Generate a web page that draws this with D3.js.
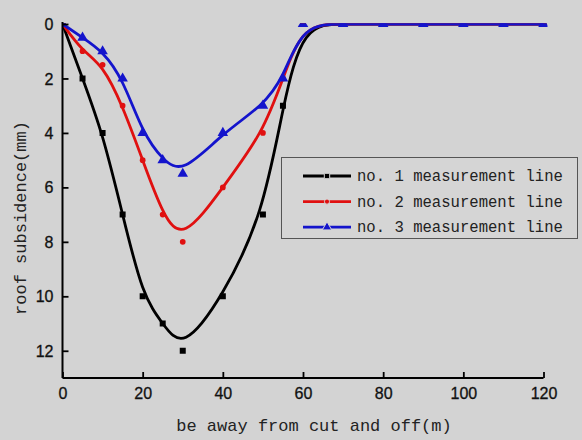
<!DOCTYPE html>
<html>
<head>
<meta charset="utf-8">
<script src="https://cdn.jsdelivr.net/npm/d3@7"></script>
<style>
  html, body { margin: 0; padding: 0; background: #d3d3d3; }
  svg { display: block; }
</style>
</head>
<body>
<svg id="chart" width="582" height="440"></svg>
<script>
// Distance from the cut line (m)
const distance = [0, 5, 10, 15, 20, 25, 30, 40, 50, 55, 60, 70, 80, 90, 100, 110, 120];
// Roof subsidence (mm) on each measurement line
const line1 = [0, 2, 4, 7, 10, 11, 12, 10, 7, 3, 0, 0, 0, 0, 0, 0, 0];
const line2 = [0, 1, 1.5, 3, 5, 7, 8, 6, 4, 2, 0, 0, 0, 0, 0, 0, 0];
const line3 = [0, 0.5, 1, 2, 4, 5, 5.5, 4, 3, 2, 0, 0, 0, 0, 0, 0, 0];
const seriesNames = ["no. 1 measurement line", "no. 2 measurement line", "no. 3 measurement line"];
const xTicks = [0, 20, 40, 60, 80, 100, 120];
const yTicks = [0, 2, 4, 6, 8, 10, 12];

const svg = d3.select("#chart");
const x = d3.scaleLinear().domain([0, 120]).range([62.5, 543.5]);
const y = d3.scaleLinear().domain([0, 13]).range([24, 378]);

const colors = ["#000000", "#e01010", "#1414cc"];
const symbols = [d3.symbolSquare, d3.symbolCircle, d3.symbolTriangle];
const symSizes = [36, 26, 48];
const values = [line1, line2, line3];

// clip region for the data marks
svg.append("defs").append("clipPath").attr("id", "plotClip")
  .append("rect")
  .attr("x", x(0)).attr("y", y(0) - 0.8)
  .attr("width", x(120) - x(0) + 4).attr("height", y(13) - y(0) + 0.8);

const plot = svg.append("g").attr("clip-path", "url(#plotClip)");
const lineGen = d3.line().x(d => x(d[0])).y(d => y(d[1])).curve(d3.curveBasis);

values.forEach((vals, i) => {
  const pts = distance.map((d, j) => [d, vals[j]]);
  plot.append("path")
    .datum(pts)
    .attr("d", lineGen)
    .attr("fill", "none")
    .attr("stroke", colors[i])
    .attr("stroke-width", 2.8)
    .attr("stroke-linejoin", "round");
  plot.selectAll(null)
    .data(pts)
    .join("path")
    .attr("transform", d => `translate(${x(d[0])},${y(d[1])})`)
    .attr("d", d3.symbol().type(symbols[i]).size(symSizes[i]))
    .attr("fill", colors[i]);
});

// axes
const xAxis = d3.axisBottom(x).tickValues(xTicks).tickSize(-6).tickPadding(10).tickSizeOuter(0);
const yAxis = d3.axisLeft(y).tickValues(yTicks).tickSize(-6).tickPadding(9).tickSizeOuter(0);

const gx = svg.append("g").attr("transform", `translate(0,${y(13)})`).call(xAxis);
const gy = svg.append("g").attr("transform", `translate(${x(0)},0)`).call(yAxis);
[gx, gy].forEach(g => {
  g.select(".domain").attr("stroke", "#000").attr("stroke-width", 2);
  g.selectAll(".tick line").attr("stroke", "#000").attr("stroke-width", 1.8);
  g.selectAll(".tick text")
    .attr("fill", "#111")
    .attr("stroke", "#111").attr("stroke-width", 0.3)
    .style("font-family", "'Liberation Sans', Arial, sans-serif")
    .style("font-size", "16px");
});
gx.select(".domain").attr("d", `M${x(0)},0H${x(120)}`);
gy.select(".domain").attr("d", `M0,${y(13)}V${y(0) - 2}`);
gy.selectAll(".tick text").attr("dy", "0.35em");

// axis titles
svg.append("text")
  .attr("x", 314).attr("y", 431)
  .attr("text-anchor", "middle")
  .style("font-family", "'Liberation Mono', 'DejaVu Sans Mono', monospace")
  .style("font-size", "17px")
  .attr("fill", "#222")
  .text("be away from cut and off(m)");

svg.append("text")
  .attr("transform", "translate(26,218) rotate(-90)")
  .attr("text-anchor", "middle")
  .style("font-family", "'Liberation Mono', 'DejaVu Sans Mono', monospace")
  .style("font-size", "17px")
  .attr("fill", "#222")
  .text("roof subsidence(mm)");

// legend
const legend = svg.append("g");
legend.append("rect")
  .attr("x", 281.5).attr("y", 157.5)
  .attr("width", 296).attr("height", 81)
  .attr("fill", "#d5d5d5")
  .attr("stroke", "#555").attr("stroke-width", 1);

seriesNames.forEach((name, i) => {
  const cy = 176 + i * 25.6;
  legend.append("line")
    .attr("x1", 303).attr("x2", 351).attr("y1", cy).attr("y2", cy)
    .attr("stroke", colors[i]).attr("stroke-width", 2.8);
  legend.append("path")
    .attr("transform", `translate(327,${cy})`)
    .attr("d", d3.symbol().type(symbols[i]).size(symSizes[i] * 0.8))
    .attr("fill", colors[i])
    .attr("stroke", "#d5d5d5").attr("stroke-width", 1);
  legend.append("text")
    .attr("x", 357).attr("y", cy + 5)
    .style("font-family", "'Liberation Mono', 'DejaVu Sans Mono', monospace")
    .style("font-size", "15.6px")
    .attr("fill", "#222")
    .text(name);
});
</script>
</body>
</html>
